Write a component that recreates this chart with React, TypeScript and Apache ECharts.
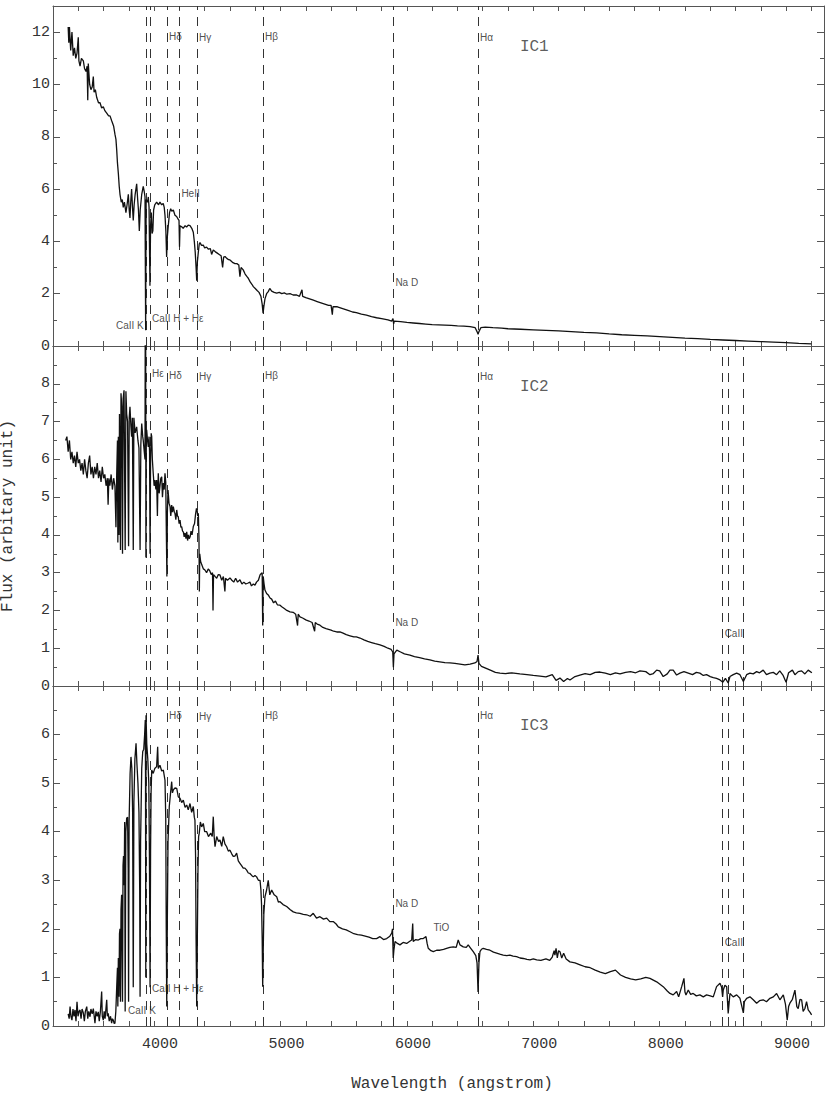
import React, { useEffect, useRef } from "react";
import * as echarts from "echarts";

const X_MIN = 3200;
const X_MAX = 9300;
const X_STEP = 200;
const panelYMax = [13, 9, 7];
const panelYStep = [2, 1, 1];

// IC1 spectrum [wavelength (A), flux]
const ic1: [number, number][] = [
  [3320, 12.2], [3325, 11.6], [3330, 12.2], [3340, 11.3], [3350, 12.0], [3360, 11.1], [3370, 11.4], [3380, 11.0],
  [3390, 11.2], [3400, 11.8], [3405, 10.9], [3414, 10.7], [3425, 11.0], [3440, 10.9], [3450, 10.6], [3461, 10.5],
  [3470, 10.7], [3475, 9.4], [3479, 10.8], [3490, 10.0], [3500, 9.8], [3510, 9.9], [3519, 10.3], [3525, 9.7],
  [3535, 9.8], [3546, 9.5], [3560, 9.3], [3572, 9.3], [3585, 9.1], [3598, 9.15], [3610, 9.0], [3625, 8.9],
  [3640, 8.8], [3651, 8.8], [3665, 8.6], [3680, 8.4], [3690, 8.1], [3698, 7.9], [3704, 7.5], [3710, 7.0],
  [3717, 6.6], [3724, 6.1], [3730, 5.8], [3740, 5.5], [3748, 5.6], [3756, 5.3], [3765, 5.5], [3777, 5.1],
  [3786, 5.4], [3796, 5.8], [3803, 5.2], [3809, 4.9], [3815, 5.5], [3822, 6.0], [3829, 5.3], [3835, 4.8],
  [3842, 5.4], [3850, 5.8], [3862, 6.2], [3870, 5.6], [3876, 5.2], [3883, 4.4], [3890, 5.2], [3902, 5.8],
  [3914, 6.1], [3922, 5.9], [3928, 5.7], [3933, 0.6], [3937, 5.6], [3941, 5.6], [3948, 5.5], [3954, 5.7],
  [3960, 5.3], [3967, 2.3], [3972, 4.6], [3978, 5.1], [3984, 4.3], [3990, 4.4], [3996, 5.2], [4005, 5.4],
  [4020, 5.5], [4035, 5.4], [4046, 5.5], [4060, 5.4], [4072, 5.45], [4080, 5.3], [4086, 5.0], [4093, 4.4],
  [4099, 3.4], [4105, 4.2], [4112, 4.6], [4122, 5.1], [4131, 5.25], [4140, 5.15], [4152, 5.2], [4165, 5.0],
  [4178, 4.95], [4190, 4.85], [4197, 4.8], [4201, 3.8], [4205, 4.6], [4218, 4.56], [4230, 4.5], [4245, 4.6],
  [4257, 4.55], [4270, 4.62], [4284, 4.6], [4298, 4.5], [4310, 4.35], [4318, 4.0], [4325, 3.6], [4332, 3.0],
  [4337, 2.5], [4342, 3.2], [4350, 3.6], [4357, 3.9], [4363, 3.95], [4375, 3.85], [4389, 3.86], [4400, 3.75],
  [4415, 3.78], [4430, 3.7], [4445, 3.72], [4455, 3.5], [4468, 3.67], [4485, 3.6], [4500, 3.55], [4515, 3.5],
  [4530, 3.45], [4542, 3.0], [4550, 3.4], [4561, 3.42], [4575, 3.35], [4590, 3.3], [4600, 3.29], [4620, 3.2],
  [4640, 3.15], [4655, 3.15], [4670, 3.1], [4679, 2.65], [4688, 3.0], [4705, 2.91], [4720, 2.75], [4735, 2.65],
  [4745, 2.59], [4760, 2.45], [4775, 2.35], [4785, 2.27], [4800, 2.2], [4815, 2.12], [4830, 2.05], [4845, 1.9],
  [4855, 1.6], [4862, 1.25], [4868, 1.5], [4877, 1.8], [4890, 2.0], [4903, 2.08], [4915, 2.2], [4930, 2.1],
  [4950, 2.05], [4970, 2.02], [4990, 2.05], [5010, 2.0], [5030, 2.03], [5050, 1.98], [5075, 2.0], [5100, 1.95],
  [5128, 1.95], [5150, 1.9], [5170, 2.15], [5175, 1.9], [5200, 1.85], [5230, 1.8], [5260, 1.75], [5290, 1.7],
  [5320, 1.65], [5350, 1.6], [5380, 1.55], [5400, 1.55], [5410, 1.2], [5415, 1.5], [5450, 1.5], [5480, 1.45],
  [5510, 1.4], [5540, 1.35], [5570, 1.3], [5600, 1.28], [5640, 1.22], [5680, 1.18], [5720, 1.12], [5760, 1.08],
  [5800, 1.05], [5850, 1.0], [5880, 0.95], [5890, 1.05], [5895, 0.85], [5900, 0.95], [5950, 0.93], [6000, 0.9],
  [6050, 0.88], [6100, 0.86], [6150, 0.84], [6200, 0.82], [6250, 0.81], [6300, 0.8], [6350, 0.79], [6400, 0.77],
  [6450, 0.76], [6500, 0.74], [6540, 0.7], [6555, 0.55], [6563, 0.45], [6570, 0.55], [6585, 0.7], [6620, 0.72],
  [6680, 0.7], [6750, 0.68], [6800, 0.66], [6900, 0.64], [7000, 0.62], [7100, 0.6], [7200, 0.58], [7300, 0.55],
  [7400, 0.52], [7500, 0.5], [7600, 0.46], [7700, 0.43], [7800, 0.41], [7900, 0.39], [8000, 0.36], [8100, 0.33],
  [8200, 0.3], [8300, 0.28], [8400, 0.25], [8500, 0.23], [8600, 0.21], [8700, 0.19], [8800, 0.17], [8900, 0.15],
  [9000, 0.13], [9100, 0.1], [9200, 0.08],
];

// IC2 spectrum
const ic2: [number, number][] = [
  [3300, 6.5], [3310, 6.6], [3320, 6.2], [3330, 6.5], [3340, 6.0], [3350, 6.2], [3360, 5.9], [3370, 6.1],
  [3380, 5.8], [3390, 6.2], [3400, 5.9], [3410, 6.0], [3420, 5.7], [3430, 5.9], [3440, 5.6], [3450, 6.0],
  [3460, 5.7], [3470, 5.5], [3480, 5.9], [3490, 6.1], [3500, 5.6], [3510, 5.8], [3520, 5.5], [3530, 5.8],
  [3540, 5.6], [3550, 5.9], [3560, 5.5], [3570, 5.7], [3580, 5.4], [3590, 5.8], [3600, 5.5], [3610, 5.6],
  [3620, 5.3], [3630, 5.5], [3636, 4.8], [3642, 5.5], [3650, 5.3], [3660, 5.6], [3670, 5.2], [3680, 5.5],
  [3690, 5.3], [3698, 4.2], [3704, 5.6], [3710, 6.5], [3713, 3.8], [3717, 6.6], [3722, 4.0], [3726, 7.2],
  [3734, 3.6], [3738, 7.75], [3744, 7.4], [3750, 3.5], [3755, 7.6], [3762, 7.83], [3771, 3.6], [3777, 7.8],
  [3783, 7.2], [3790, 7.0], [3798, 3.7], [3803, 7.1], [3809, 7.39], [3816, 6.9], [3822, 6.6], [3828, 7.1],
  [3835, 3.6], [3840, 7.1], [3850, 6.7], [3862, 6.86], [3872, 6.5], [3880, 6.3], [3889, 3.6], [3895, 6.4],
  [3902, 6.95], [3910, 6.6], [3914, 6.5], [3922, 6.2], [3928, 6.0], [3932, 14], [3935, 3.4], [3938, 6.4],
  [3941, 6.78], [3948, 6.5], [3954, 6.33], [3960, 6.6], [3964, 6.2], [3968, 3.5], [3972, 6.0], [3977, 6.69],
  [3981, 6.6], [3986, 6.0], [3993, 5.63], [4000, 5.3], [4007, 5.45], [4014, 5.2], [4020, 5.45], [4026, 4.5],
  [4030, 5.3], [4033, 5.63], [4040, 5.1], [4046, 5.28], [4053, 5.5], [4060, 5.54], [4066, 5.0], [4073, 5.37],
  [4080, 5.2], [4086, 5.63], [4092, 5.4], [4097, 4.0], [4101, 2.9], [4105, 4.6], [4110, 5.19], [4118, 4.84],
  [4126, 4.75], [4132, 4.5], [4139, 4.79], [4145, 4.6], [4152, 4.75], [4160, 4.6], [4165, 4.57], [4172, 4.4],
  [4179, 4.66], [4185, 4.5], [4191, 4.48], [4198, 4.3], [4205, 4.39], [4212, 4.2], [4218, 4.22], [4225, 4.1],
  [4231, 4.08], [4238, 3.95], [4245, 4.05], [4252, 3.9], [4258, 4.08], [4265, 3.85], [4271, 4.0], [4278, 3.9],
  [4285, 3.95], [4292, 4.1], [4300, 4.0], [4310, 4.22], [4320, 4.3], [4328, 4.55], [4335, 4.7], [4340, 4.66],
  [4345, 4.5], [4350, 4.57], [4355, 3.9], [4358, 2.5], [4361, 3.5], [4368, 3.3], [4378, 3.2], [4390, 3.1],
  [4402, 3.07], [4415, 3.0], [4428, 3.1], [4440, 3.05], [4452, 2.95], [4462, 3.0], [4466, 2.0], [4470, 2.95],
  [4482, 2.9], [4495, 2.85], [4508, 2.95], [4521, 2.94], [4535, 2.8], [4548, 2.9], [4560, 2.5], [4565, 2.85],
  [4580, 2.8], [4600, 2.86], [4615, 2.8], [4630, 2.75], [4645, 2.85], [4660, 2.75], [4679, 2.81], [4695, 2.7],
  [4710, 2.75], [4725, 2.7], [4740, 2.72], [4758, 2.75], [4770, 2.65], [4785, 2.7], [4798, 2.67], [4810, 2.75],
  [4825, 2.8], [4838, 2.94], [4848, 2.98], [4855, 3.0], [4859, 1.6], [4863, 2.9], [4870, 2.7], [4877, 2.54],
  [4890, 2.45], [4905, 2.4], [4917, 2.33], [4930, 2.3], [4945, 2.2], [4960, 2.25], [4975, 2.15], [4996, 2.14],
  [5010, 2.1], [5030, 2.05], [5050, 2.0], [5075, 1.96], [5100, 1.95], [5120, 1.9], [5135, 1.6], [5140, 1.9],
  [5154, 1.83], [5175, 1.8], [5200, 1.75], [5225, 1.72], [5250, 1.68], [5270, 1.45], [5275, 1.68], [5290, 1.64],
  [5312, 1.61], [5335, 1.55], [5360, 1.52], [5380, 1.5], [5400, 1.48], [5420, 1.45], [5445, 1.43], [5470, 1.43],
  [5495, 1.4], [5520, 1.36], [5550, 1.33], [5580, 1.3], [5600, 1.3], [5629, 1.27], [5660, 1.22], [5690, 1.18],
  [5720, 1.15], [5750, 1.12], [5787, 1.09], [5820, 1.05], [5850, 1.0], [5875, 0.97], [5888, 0.9], [5893, 0.5],
  [5898, 0.85], [5920, 0.95], [5950, 0.9], [5980, 0.85], [6024, 0.82], [6060, 0.78], [6100, 0.75], [6140, 0.72],
  [6182, 0.69], [6220, 0.66], [6260, 0.64], [6300, 0.62], [6341, 0.61], [6380, 0.6], [6420, 0.58], [6459, 0.56],
  [6500, 0.58], [6538, 0.61], [6555, 0.65], [6563, 0.82], [6570, 0.6], [6590, 0.52], [6618, 0.48], [6660, 0.42],
  [6700, 0.36], [6736, 0.34], [6780, 0.33], [6830, 0.35], [6894, 0.32], [6950, 0.3], [7000, 0.28], [7053, 0.26],
  [7100, 0.24], [7150, 0.3], [7180, 0.15], [7211, 0.21], [7240, 0.12], [7270, 0.2], [7290, 0.16], [7330, 0.25],
  [7369, 0.29], [7410, 0.33], [7450, 0.3], [7490, 0.36], [7527, 0.37], [7570, 0.34], [7610, 0.3], [7650, 0.35],
  [7686, 0.32], [7730, 0.36], [7770, 0.38], [7810, 0.35], [7844, 0.4], [7890, 0.38], [7923, 0.3], [7950, 0.33],
  [7976, 0.42], [8000, 0.4], [8028, 0.25], [8060, 0.32], [8081, 0.42], [8107, 0.42], [8134, 0.29], [8160, 0.34],
  [8192, 0.38], [8226, 0.34], [8260, 0.3], [8290, 0.36], [8318, 0.34], [8345, 0.28], [8371, 0.3], [8400, 0.25],
  [8424, 0.22], [8450, 0.2], [8477, 0.16], [8500, 0.1], [8520, 0.2], [8542, 0.08], [8556, 0.25], [8582, 0.3],
  [8609, 0.34], [8635, 0.3], [8662, 0.12], [8688, 0.3], [8714, 0.34], [8740, 0.32], [8767, 0.38], [8790, 0.35],
  [8819, 0.42], [8845, 0.3], [8872, 0.34], [8899, 0.36], [8925, 0.3], [8950, 0.4], [8975, 0.29], [9000, 0.1],
  [9020, 0.35], [9050, 0.42], [9070, 0.3], [9096, 0.38], [9123, 0.4], [9149, 0.32], [9175, 0.42], [9204, 0.35],
];

// IC3 spectrum
const ic3: [number, number][] = [
  [3320, 0.25], [3328, 0.15], [3335, 0.4], [3342, 0.2], [3350, 0.12], [3358, 0.35], [3366, 0.2], [3374, 0.33],
  [3382, 0.1], [3390, 0.5], [3398, 0.2], [3406, 0.3], [3414, 0.33], [3422, 0.15], [3430, 0.35], [3440, 0.27],
  [3448, 0.1], [3456, 0.3], [3467, 0.4], [3475, 0.15], [3483, 0.3], [3493, 0.19], [3500, 0.35], [3510, 0.25],
  [3519, 0.36], [3526, 0.2], [3532, 0.06], [3540, 0.3], [3550, 0.2], [3558, 0.29], [3566, 0.1], [3575, 0.3],
  [3585, 0.71], [3590, 0.2], [3598, 0.12], [3605, 0.3], [3612, 0.15], [3625, 0.54], [3630, 0.2], [3637, 0.26],
  [3645, 0.1], [3655, 0.2], [3664, 0.06], [3670, 0.15], [3677, 0.12], [3684, 0.05], [3690, 0.06], [3697, 0.3],
  [3704, 0.8], [3710, 1.2], [3713, 0.4], [3717, 1.4], [3722, 0.6], [3726, 1.9], [3730, 2.0], [3734, 0.5],
  [3738, 2.4], [3743, 2.7], [3750, 0.5], [3754, 3.3], [3758, 3.5], [3763, 2.9], [3767, 4.2], [3771, 0.3],
  [3776, 4.0], [3783, 4.28], [3790, 4.3], [3795, 3.2], [3798, 0.5], [3802, 4.2], [3810, 5.2], [3817, 5.54],
  [3824, 5.3], [3830, 4.4], [3835, 0.8], [3840, 4.6], [3848, 5.5], [3857, 5.82], [3864, 5.4], [3872, 5.0],
  [3880, 4.4], [3886, 2.8], [3889, 0.6], [3893, 3.8], [3902, 5.3], [3910, 5.65], [3918, 5.7], [3925, 6.0],
  [3930, 6.3], [3932, 5.2], [3934, 1.0], [3936, 6.4], [3942, 5.8], [3950, 5.5], [3958, 5.0], [3963, 3.5],
  [3968, 0.8], [3972, 3.6], [3976, 4.8], [3981, 5.27], [3993, 5.2], [4005, 5.3], [4020, 5.34], [4028, 5.75],
  [4033, 5.3], [4046, 5.37], [4060, 5.25], [4073, 5.27], [4086, 5.06], [4092, 4.3], [4096, 2.0], [4100, 0.4],
  [4104, 2.0], [4110, 3.8], [4120, 4.52], [4130, 4.8], [4139, 5.03], [4145, 4.8], [4152, 4.86], [4165, 4.9],
  [4179, 4.89], [4191, 4.72], [4205, 4.69], [4218, 4.6], [4231, 4.65], [4245, 4.5], [4258, 4.55], [4270, 4.45],
  [4284, 4.58], [4297, 4.4], [4310, 4.52], [4318, 4.3], [4323, 4.24], [4328, 3.5], [4332, 1.8], [4337, 0.4],
  [4342, 1.8], [4347, 3.2], [4352, 3.9], [4357, 3.97], [4366, 4.2], [4376, 4.1], [4389, 4.17], [4400, 4.0],
  [4416, 4.0], [4430, 3.9], [4448, 3.97], [4460, 3.9], [4468, 4.31], [4475, 3.9], [4482, 3.69], [4495, 3.9],
  [4510, 3.8], [4521, 3.83], [4535, 3.7], [4547, 3.9], [4560, 3.75], [4574, 3.69], [4587, 3.6], [4600, 3.62],
  [4613, 3.55], [4626, 3.49], [4640, 3.5], [4653, 3.56], [4666, 3.4], [4679, 3.35], [4692, 3.3], [4705, 3.25],
  [4718, 3.25], [4732, 3.21], [4745, 3.15], [4758, 3.14], [4772, 3.1], [4785, 3.07], [4798, 3.1], [4811, 3.07],
  [4825, 3.0], [4838, 3.0], [4845, 2.8], [4850, 2.5], [4855, 1.8], [4859, 0.81], [4863, 1.5], [4868, 2.3],
  [4877, 2.66], [4890, 2.8], [4903, 3.0], [4915, 2.7], [4930, 2.8], [4950, 2.7], [4970, 2.66], [4983, 2.55],
  [4996, 2.56], [5020, 2.5], [5049, 2.46], [5075, 2.4], [5101, 2.35], [5125, 2.33], [5154, 2.32], [5180, 2.3],
  [5207, 2.29], [5235, 2.26], [5259, 2.32], [5285, 2.22], [5312, 2.25], [5340, 2.2], [5365, 2.22], [5390, 2.15],
  [5417, 2.15], [5440, 2.1], [5457, 2.04], [5490, 2.0], [5520, 1.98], [5550, 1.94], [5580, 1.9], [5610, 1.88],
  [5640, 1.87], [5670, 1.85], [5700, 1.83], [5730, 1.8], [5760, 1.8], [5787, 1.84], [5815, 1.78], [5840, 1.8],
  [5865, 1.85], [5880, 1.91], [5886, 2.0], [5892, 1.4], [5897, 1.56], [5906, 1.74], [5925, 1.7], [5945, 1.67],
  [5970, 1.72], [5998, 1.7], [6020, 1.74], [6038, 1.77], [6046, 2.11], [6050, 1.74], [6070, 1.78], [6090, 1.77],
  [6110, 1.8], [6129, 1.8], [6151, 1.84], [6160, 1.7], [6169, 1.6], [6190, 1.55], [6209, 1.53], [6235, 1.56],
  [6262, 1.56], [6290, 1.58], [6314, 1.6], [6340, 1.62], [6367, 1.63], [6390, 1.62], [6406, 1.77], [6420, 1.67],
  [6446, 1.63], [6470, 1.62], [6485, 1.67], [6505, 1.6], [6525, 1.53], [6545, 1.45], [6555, 1.3], [6563, 0.7],
  [6570, 1.3], [6578, 1.53], [6590, 1.58], [6604, 1.6], [6630, 1.58], [6657, 1.56], [6685, 1.52], [6710, 1.5],
  [6735, 1.48], [6762, 1.46], [6790, 1.45], [6815, 1.46], [6840, 1.44], [6868, 1.43], [6895, 1.4], [6921, 1.39],
  [6950, 1.37], [6974, 1.36], [7000, 1.38], [7027, 1.36], [7060, 1.35], [7100, 1.38], [7130, 1.35], [7150, 1.42],
  [7165, 1.55], [7171, 1.46], [7180, 1.6], [7190, 1.4], [7200, 1.55], [7211, 1.53], [7225, 1.4], [7240, 1.5],
  [7260, 1.38], [7290, 1.32], [7330, 1.3], [7370, 1.26], [7410, 1.22], [7450, 1.2], [7490, 1.15], [7530, 1.11],
  [7570, 1.08], [7610, 1.12], [7650, 1.15], [7690, 1.05], [7730, 1.0], [7770, 0.97], [7810, 0.95], [7850, 0.97],
  [7890, 1.0], [7923, 0.98], [7976, 0.91], [8028, 0.81], [8060, 0.72], [8081, 0.67], [8107, 0.64], [8134, 0.71],
  [8150, 0.6], [8174, 0.81], [8192, 0.98], [8200, 0.7], [8208, 0.64], [8226, 0.74], [8245, 0.65], [8265, 0.67],
  [8290, 0.62], [8318, 0.64], [8345, 0.6], [8371, 0.64], [8400, 0.62], [8424, 0.6], [8450, 0.81], [8477, 0.88],
  [8490, 0.8], [8498, 0.6], [8503, 0.74], [8516, 0.84], [8530, 0.81], [8542, 0.26], [8556, 0.67], [8582, 0.6],
  [8609, 0.64], [8635, 0.57], [8662, 0.27], [8670, 0.5], [8688, 0.57], [8714, 0.6], [8740, 0.54], [8767, 0.47],
  [8790, 0.52], [8819, 0.54], [8845, 0.5], [8872, 0.57], [8899, 0.6], [8925, 0.67], [8951, 0.54], [8978, 0.64],
  [8995, 0.45], [9009, 0.12], [9020, 0.4], [9030, 0.47], [9050, 0.55], [9070, 0.74], [9085, 0.4], [9096, 0.36],
  [9110, 0.55], [9123, 0.54], [9135, 0.3], [9149, 0.36], [9162, 0.5], [9175, 0.33], [9190, 0.28], [9202, 0.23],
];

// Dashed line positions (A)
const lines1 = [3934, 3968, 4102, 4200, 4340, 4861, 5893, 6563];
const lines2 = [3934, 3968, 4102, 4340, 4861, 5893, 6563, 8498, 8542, 8662];
const lines3 = [3934, 3968, 4102, 4200, 4340, 4861, 5893, 6563, 8498, 8542, 8662];

// Line labels: [wavelength, flux, text, side]
type Lab = [number, number, string, string];
const labels1: Lab[] = [
  [4102, 11.85, "Hδ", "right"], [4340, 11.8, "Hγ", "right"], [4861, 11.85, "Hβ", "right"],
  [6563, 11.8, "Hα", "right"], [4200, 5.85, "HeII", "right"], [5893, 2.41, "Na D", "right"],
  [3934, 0.8, "CaII K", "left"], [3968, 1.07, "CaII H + Hε", "right"],
];
const labels2: Lab[] = [
  [3968, 8.28, "Hε", "right"], [4102, 8.23, "Hδ", "right"], [4340, 8.2, "Hγ", "right"],
  [4861, 8.23, "Hβ", "right"], [6563, 8.2, "Hα", "right"], [5893, 1.69, "Na D", "right"],
  [8498, 1.4, "CaII", "right"],
];
const labels3: Lab[] = [
  [4102, 6.4, "Hδ", "right"], [4340, 6.38, "Hγ", "right"], [4861, 6.4, "Hβ", "right"],
  [6563, 6.4, "Hα", "right"], [5893, 2.53, "Na D", "right"], [6195, 2.02, "TiO", "right"],
  [8498, 1.71, "CaII", "right"], [3968, 0.78, "CaII H + Hε", "right"], [3778, 0.31, "CaII K", "right"],
];
// Panel names: [wavelength, flux, text]
const panelTags: [number, number, string][] = [
  [6894, 11.43, "IC1"], [6894, 7.91, "IC2"], [6894, 6.18, "IC3"],
];

const spectra = [ic1, ic2, ic3];
const lineSets = [lines1, lines2, lines3];
const labelSets = [labels1, labels2, labels3];

const MONO = "'Liberation Mono', 'DejaVu Sans Mono', monospace";
const SANS = "'Liberation Sans', Arial, sans-serif";
const AXIS_COLOR = "#555";

export default function App() {
  const ref = useRef<HTMLDivElement>(null);
  useEffect(() => {
    if (!ref.current) return;
    const chart = echarts.init(ref.current, undefined, { renderer: "svg" });
    const grids: any[] = [];
    const xAxes: any[] = [];
    const yAxes: any[] = [];
    const series: any[] = [];
    for (let i = 0; i < 3; i++) {
      grids.push({
        left: 53, width: 771, top: 6 + i * 340, height: 340,
        containLabel: false, outerBoundsMode: "none",
      });
      const xBase = {
        type: "value", gridIndex: i, min: X_MIN, max: X_MAX, interval: X_STEP,
        axisLine: { show: true, onZero: false, lineStyle: { color: AXIS_COLOR, width: 1 } },
        axisTick: { show: true, inside: true, length: 5, lineStyle: { color: AXIS_COLOR } },
        splitLine: { show: false },
      };
      xAxes.push({
        ...xBase, position: "bottom",
        axisLabel: {
          show: i === 2, fontFamily: MONO, fontSize: 15, color: "#333", margin: 11,
          padding: [0, 0, 0, 12],
          formatter: (v: number) => (v % 1000 === 0 ? String(v) : ""),
        },
      });
      xAxes.push({ ...xBase, position: "top", axisLabel: { show: false } });
      const yMax = panelYMax[i];
      const yBase = {
        type: "value", gridIndex: i, min: 0, max: yMax, interval: panelYStep[i],
        axisLine: { show: true, onZero: false, lineStyle: { color: AXIS_COLOR, width: 1 } },
        axisTick: { show: true, inside: true, length: 7, lineStyle: { color: AXIS_COLOR } },
        minorTick: { show: true, splitNumber: 2, length: 4, lineStyle: { color: AXIS_COLOR } },
        splitLine: { show: false },
        minorSplitLine: { show: false },
      };
      yAxes.push({
        ...yBase, position: "left",
        axisLabel: {
          show: true, fontFamily: MONO, fontSize: 15, color: "#333", margin: 3,
          formatter: (v: number) => (v >= yMax || v % panelYStep[i] !== 0 ? "" : String(v)),
        },
        ...(i === 1
          ? {
              name: "Flux (arbitary unit)", nameLocation: "middle", nameGap: 37, nameRotate: 90,
              nameTextStyle: { fontFamily: MONO, fontSize: 16, color: "#333" },
            }
          : {}),
      });
      yAxes.push({ ...yBase, position: "right", axisLabel: { show: false } });

      series.push({
        type: "line", xAxisIndex: 2 * i, yAxisIndex: 2 * i,
        data: spectra[i], showSymbol: false, symbol: "none", clip: true,
        lineStyle: { color: "#111", width: 1.3 }, z: 3,
        markLine: {
          silent: true, symbol: ["none", "none"], label: { show: false },
          lineStyle: { type: [9, 7], color: "#333", width: 1 },
          data: lineSets[i].map((l) => ({ xAxis: l })),
          z: 2,
        },
      });
      const labItems = labelSets[i].map((l) => ({
        name: l[2], value: [l[0], l[1]],
        label: {
          show: true, position: l[3], distance: 2, formatter: "{b}",
          fontFamily: SANS, fontSize: 10, color: "#222",
        },
      }));
      const tag = panelTags[i];
      labItems.push({
        name: tag[2], value: [tag[0], tag[1]],
        label: {
          show: true, position: "right", distance: 0, formatter: "{b}",
          fontFamily: MONO, fontSize: 16, color: "#333",
        },
      });
      series.push({
        type: "scatter", xAxisIndex: 2 * i, yAxisIndex: 2 * i,
        symbolSize: 0, silent: true, data: labItems, z: 4,
      });
    }
    chart.setOption({
      animation: false,
      backgroundColor: "#fff",
      grid: grids,
      xAxis: xAxes,
      yAxis: yAxes,
      series,
      graphic: [
        {
          type: "text", x: 452, y: 1084,
          style: {
            text: "Wavelength (angstrom)", fontFamily: MONO, fontSize: 16, fill: "#333",
            align: "center", verticalAlign: "middle", textAlign: "center", textVerticalAlign: "middle",
          },
        },
      ],
    });
    return () => chart.dispose();
  }, []);
  return (
    <div
      ref={ref}
      style={{ position: "absolute", left: 0, top: 0, width: 830, height: 1098, background: "#fff" }}
    />
  );
}
